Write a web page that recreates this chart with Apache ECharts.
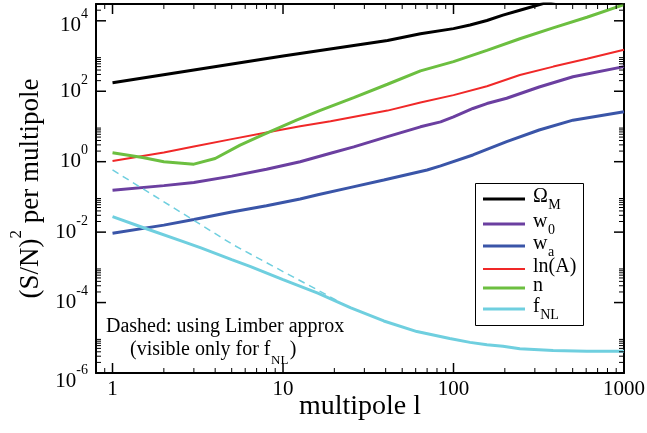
<!DOCTYPE html>
<html>
<head>
<meta charset="utf-8">
<script src="https://cdn.jsdelivr.net/npm/echarts@6/dist/echarts.min.js"></script>
<style>
  html, body { margin: 0; padding: 0; background: #ffffff; }
  #chart { width: 647px; height: 433px; }
</style>
</head>
<body>
<div id="chart"></div>
<script>
const FONT = '"Liberation Serif", "Times New Roman", serif';

// (S/N)^2 per multipole, one pair of arrays per parameter
const omegaL = [1, 3, 10, 26, 41, 64, 100, 125, 157, 195, 245, 360, 420];
const omegaV = [174, 400, 1000, 2000, 2750, 4300, 6000, 7600, 10200, 14500, 20000, 34000, 40000];

const w0L = [1, 2, 3, 5, 8, 12.6, 19, 26, 41, 64, 84, 100, 130, 157, 205, 318, 502, 1000];
const w0V = [0.155, 0.209, 0.257, 0.389, 0.61, 1.0, 1.74, 2.63, 5.13, 9.77, 13.5, 18.6, 32.4, 44.7, 63.1, 132, 257, 500];

const waL = [1, 2, 3, 5, 8, 12.6, 16, 25, 39, 70, 84, 130, 205, 318, 502, 1000];
const waV = [0.0093, 0.0158, 0.0229, 0.0372, 0.0562, 0.0871, 0.115, 0.186, 0.302, 0.582, 0.759, 1.55, 3.72, 7.94, 15.1, 26.3];

const lnAL = [1, 2, 3, 5, 8, 12.6, 19, 41, 64, 100, 157, 245, 385, 606, 1000];
const lnAV = [1.05, 1.82, 2.69, 4.37, 6.76, 10.2, 14.1, 28.2, 47.9, 77.6, 138, 288, 501, 832, 1514];

const nL = [1, 1.5, 2, 3, 4, 5.6, 7.6, 12, 16.4, 26, 41, 64, 100, 157, 245, 384, 606, 1000];
const nV = [1.80, 1.32, 1.0, 0.851, 1.23, 2.95, 5.75, 15.1, 28.2, 66.1, 158, 380, 692, 1445, 3090, 6310, 12590, 28840];

const fnlL = [1, 1.55, 2.6, 3.3, 5, 6.4, 10, 16, 25, 39, 61, 95, 125, 157, 195, 245, 384, 606, 1000];
const fnlV = [0.0275, 0.0129, 0.00537, 0.00355, 0.00166, 0.00107, 4.47e-4, 1.86e-4, 7.08e-5, 3.0e-5, 1.5e-5, 9.5e-6, 7.41e-6, 6.31e-6, 5.75e-6, 4.90e-6, 4.37e-6, 4.17e-6, 4.17e-6];

// Limber-approximation curve for f_NL (elsewhere it sits under the full result)
const limberL = [1, 2.6, 5.1, 10, 15.8, 21];
const limberV = [0.582, 0.0331, 0.00437, 7.59e-4, 2.34e-4, 1.10e-4];

// legend entries: main symbol and subscript
const seriesNames = ['Ω_M', 'w_0', 'w_a', 'ln(A)', 'n', 'f_NL'];
const seriesColors = ['#000000', '#6b3fa0', '#3a55a8', '#f02828', '#6cbf40', '#6fcfdf'];
const seriesWidths = [3, 3, 3, 2, 3, 3];

// axis ranges and labelled ticks
const xRange = [0.8, 1000];
const yRange = [1e-6, 3e4];
const xMajor = [1, 10, 100, 1000];
const yMajorExp = [-6, -4, -2, 0, 2, 4];

// minor ticks: 2..9 times each labelled power (plus 0.9 just left of 1)
const xMinor = [0.9];
for (const b of [1, 10, 100]) for (let k = 2; k <= 9; k++) xMinor.push(k * b);
const yMinor = [];
for (const e of yMajorExp) for (let k = 2; k <= 9; k++) {
  const v = k * Math.pow(10, e);
  if (v <= yRange[1] * 1.0001) yMinor.push(v);
}

const zip = (xs, ys) => xs.map((x, i) => [x, ys[i]]);
const seriesData = [zip(omegaL, omegaV), zip(w0L, w0V), zip(waL, waV), zip(lnAL, lnAV), zip(nL, nV), zip(fnlL, fnlV)];

function isPow10(v) {
  const e = Math.log10(v);
  return Math.abs(e - Math.round(e)) < 1e-6;
}

const lineSeries = seriesNames.map((name, i) => ({
  type: 'line',
  name: name,
  data: seriesData[i],
  symbol: 'none',
  showSymbol: false,
  smooth: false,
  clip: true,
  z: 3 + i,
  color: seriesColors[i],
  itemStyle: { color: seriesColors[i] },
  lineStyle: { color: seriesColors[i], width: seriesWidths[i] },
  emphasis: { disabled: true }
}));

const limberSeries = {
  type: 'line',
  name: 'Limber',
  data: zip(limberL, limberV),
  symbol: 'none',
  showSymbol: false,
  clip: true,
  z: 10,
  color: seriesColors[5],
  lineStyle: { color: seriesColors[5], width: 1.5, type: [7, 5] },
  emphasis: { disabled: true }
};

// y tick label: 10 with a raised exponent; s shifts the whole label down
function yLabelRich(s) {
  return {
    b: { fontFamily: FONT, fontSize: 21, color: '#000', verticalAlign: 'top', padding: [7.5 + 2 * s, 0, 0, 0], lineHeight: 36 + 2 * s },
    e: { fontFamily: FONT, fontSize: 14, color: '#000', verticalAlign: 'top', padding: [2 * s, 0, 0, 0] }
  };
}
const yRich = {};
const r0 = yLabelRich(0), rTop = yLabelRich(5), rBot = yLabelRich(8);
yRich.b = r0.b; yRich.e = r0.e;
yRich.bt = rTop.b; yRich.et = rTop.e;
yRich.bb = rBot.b; yRich.eb = rBot.e;

const GRID = { left: 96, right: 23, top: 4, bottom: 60 };
const axisLineStyle = { color: '#000', width: 2 };

const option = {
  animation: false,
  backgroundColor: '#ffffff',
  grid: { left: GRID.left, right: GRID.right, top: GRID.top, bottom: GRID.bottom, containLabel: false, outerBoundsMode: 'none' },
  xAxis: [
    {
      type: 'log', logBase: 10, min: xRange[0], max: xRange[1], position: 'bottom',
      axisLine: { show: true, lineStyle: axisLineStyle },
      axisTick: { show: false },
      splitLine: { show: false },
      axisLabel: {
        margin: 6,
        fontFamily: FONT, fontSize: 21, color: '#000', lineHeight: 21,
        hideOverlap: false,
        formatter: v => (isPow10(v) && xMajor.indexOf(Math.round(v)) >= 0) ? String(Math.round(v)) : ''
      },
      name: 'multipole l',
      nameLocation: 'middle',
      nameGap: 20,
      nameMoveOverlap: false,
      nameTextStyle: { fontFamily: FONT, fontSize: 28, color: '#000', lineHeight: 28 }
    },
    {
      type: 'log', logBase: 10, min: xRange[0], max: xRange[1], position: 'top',
      axisLine: { show: true, lineStyle: axisLineStyle },
      axisTick: { show: false },
      splitLine: { show: false },
      axisLabel: { show: false }
    }
  ],
  yAxis: [
    {
      type: 'log', logBase: 100, min: yRange[0], max: yRange[1], position: 'left',
      axisLine: { show: true, lineStyle: axisLineStyle },
      axisTick: { show: false },
      splitLine: { show: false },
      axisLabel: {
        margin: 8,
        hideOverlap: false,
        fontFamily: FONT, fontSize: 21, color: '#000',
        formatter: v => {
          if (!isPow10(v)) return '';
          const e = Math.round(Math.log10(v));
          if (yMajorExp.indexOf(e) < 0) return '';
          const sfx = e === 4 ? 't' : (e === -6 ? 'b' : '');
          return '{b' + sfx + '|10}{e' + sfx + '|' + e + '}';
        },
        rich: yRich
      },
      name: '{t|(S/N)}{u|2}{t| per multipole}',
      nameLocation: 'middle',
      nameRotate: 90,
      nameGap: 52,
      nameMoveOverlap: false,
      nameTextStyle: {
        rich: {
          t: { fontFamily: FONT, fontSize: 27, color: '#000', verticalAlign: 'top', padding: [9, 0, 0, 0] },
          u: { fontFamily: FONT, fontSize: 17, color: '#000', verticalAlign: 'top' }
        }
      }
    },
    {
      type: 'log', logBase: 100, min: yRange[0], max: yRange[1], position: 'right',
      axisLine: { show: true, lineStyle: axisLineStyle },
      axisTick: { show: false },
      splitLine: { show: false },
      axisLabel: { show: false }
    }
  ],
  series: lineSeries.concat([limberSeries])
};

const chart = echarts.init(document.getElementById('chart'), null, { renderer: 'canvas' });
try { chart.setOption(option); } catch (e) { /* keep going so the overlays still draw */ }

// pixel positions along each axis: ask the chart's axis scale, with the same
// log mapping of the grid box as a fallback
const W = 647, H = 433;
const boxL = GRID.left, boxR = W - GRID.right, boxT = GRID.top, boxB = H - GRID.bottom;
function logFrac(v, range) {
  const a = Math.log10(range[0]), b = Math.log10(range[1]);
  return (Math.log10(v) - a) / (b - a);
}
function px(v) {
  let p;
  try { p = chart.convertToPixel({ xAxisIndex: 0 }, v); } catch (e) { p = NaN; }
  if (typeof p !== 'number' || !isFinite(p)) p = boxL + logFrac(v, xRange) * (boxR - boxL);
  return p;
}
function py(v) {
  let p;
  try { p = chart.convertToPixel({ yAxisIndex: 0 }, v); } catch (e) { p = NaN; }
  if (typeof p !== 'number' || !isFinite(p)) p = boxB - logFrac(v, yRange) * (boxB - boxT);
  return p;
}

const overlay = [];
const addOverlay = el => { el.id = 'ov' + overlay.length; overlay.push(el); };

// tick marks on all four sides, pointing inward
function addTick(x, y, w, h) {
  addOverlay({ type: 'rect', z: 40, shape: { x: x, y: y, width: w, height: h }, style: { fill: '#000' } });
}
function xTick(v, major) {
  const x = px(v), len = major ? 10 : 5, w = major ? 1.5 : 1;
  addTick(x - w / 2, boxB - len, w, len);
  addTick(x - w / 2, boxT, w, len);
}
function yTick(v, major) {
  const y = py(v), len = major ? 10 : 5, w = major ? 1.5 : 1;
  addTick(boxL, y - w / 2, len, w);
  addTick(boxR - len, y - w / 2, len, w);
}
xMinor.forEach(v => xTick(v, false));
xMajor.forEach(v => xTick(v, true));
yMinor.forEach(v => yTick(v, false));
yMajorExp.forEach(e => yTick(Math.pow(10, e), true));

// text width helper for placing subscripts
const measureCtx = document.createElement('canvas').getContext('2d');
function textWidth(str, size) {
  measureCtx.font = size + 'px ' + FONT;
  return measureCtx.measureText(str).width;
}

// legend box drawn from the series names and colours
const legendBox = { x: 475, y: 183, w: 108, h: 142 };
const legendRows = [199, 224, 246, 269, 288, 309];
const legendLineX = [483, 525];
const legendTextX = 533;
addOverlay({
  type: 'rect', z: 30,
  shape: { x: legendBox.x + 0.5, y: legendBox.y + 0.5, width: legendBox.w, height: legendBox.h },
  style: { fill: '#ffffff', stroke: '#000', lineWidth: 1 }
});
seriesNames.forEach((name, i) => {
  const ry = legendRows[i];
  const parts = name.split('_');
  const lw = seriesWidths[i];
  addOverlay({
    type: 'rect', z: 31,
    shape: { x: legendLineX[0], y: ry - lw / 2, width: legendLineX[1] - legendLineX[0], height: lw },
    style: { fill: seriesColors[i] }
  });
  addOverlay({
    type: 'text', z: 31, x: legendTextX, y: ry - 2.5,
    style: { text: parts[0], fontFamily: FONT, fontSize: 20, fill: '#000', align: 'left', verticalAlign: 'middle' }
  });
  if (parts[1]) {
    addOverlay({
      type: 'text', z: 31, x: legendTextX + textWidth(parts[0], 20) + 0.5, y: ry + 6.5,
      style: { text: parts[1], fontFamily: FONT, fontSize: 14, fill: '#000', align: 'left', verticalAlign: 'middle' }
    });
  }
});

// note about the dashed curve
const noteX = 130, noteY = 350;
const noteMain = '(visible only for f';
const noteSubX = noteX + textWidth(noteMain, 20) + 0.5;
const noteEndX = noteSubX + textWidth('NL', 13) + 1.5;
addOverlay({
  type: 'text', x: 106, y: 327,
  style: { text: 'Dashed: using Limber approx', fontFamily: FONT, fontSize: 20, fill: '#000', align: 'left', verticalAlign: 'middle' }
});
addOverlay({
  type: 'text', x: noteX, y: noteY,
  style: { text: noteMain, fontFamily: FONT, fontSize: 20, fill: '#000', align: 'left', verticalAlign: 'middle' }
});
addOverlay({
  type: 'text', x: noteSubX, y: noteY + 10.5,
  style: { text: 'NL', fontFamily: FONT, fontSize: 13, fill: '#000', align: 'left', verticalAlign: 'middle' }
});
addOverlay({
  type: 'text', x: noteEndX, y: noteY,
  style: { text: ')', fontFamily: FONT, fontSize: 20, fill: '#000', align: 'left', verticalAlign: 'middle' }
});

try { chart.setOption({ graphic: overlay }); } catch (e) { /* nothing else to draw */ }
</script>
</body>
</html>
